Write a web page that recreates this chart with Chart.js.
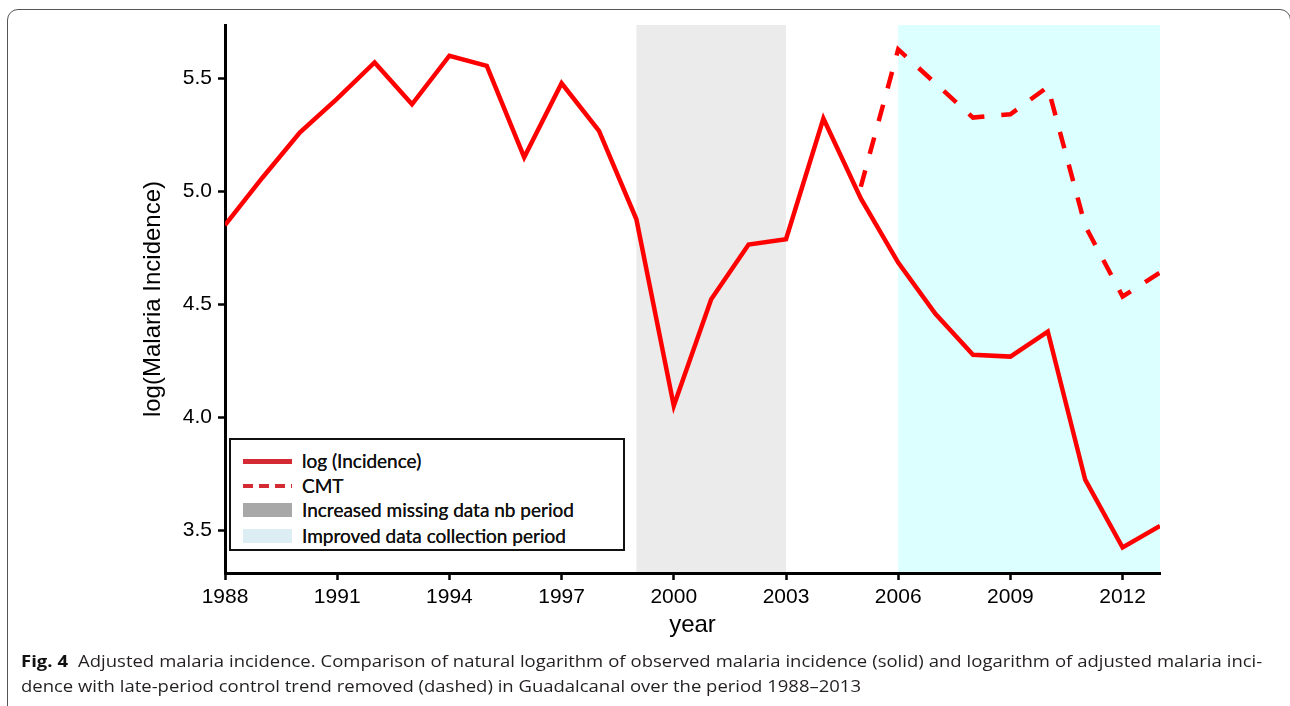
<!DOCTYPE html>
<html>
<head>
<meta charset="utf-8">
<script src="https://cdn.jsdelivr.net/npm/chart.js@4.4.1/dist/chart.umd.min.js"></script>
<style>
  html, body { margin: 0; padding: 0; background: #fff; }
  body { width: 1290px; height: 706px; position: relative; overflow: hidden; }
  #frame {
    position: absolute; left: 7px; top: 9px; width: 1284px; height: 720px;
    border: 1.5px solid #555; border-radius: 11px; box-sizing: border-box;
  }
  #wrap { position: absolute; left: 0; top: 0; width: 1290px; height: 706px; }
  #legend {
    position: absolute; left: 229px; top: 438px; width: 396px; height: 113px;
    border: 2px solid #111; box-sizing: border-box; background: #fff;
    font-family: Lato, "Open Sans", sans-serif; font-size: 19px; color: #111;
  }
  .row { position: absolute; left: 0; height: 20px; }
  .row .swatch { position: absolute; left: 12px; width: 49px; }
  .row .label { position: absolute; left: 71px; top: 0; line-height: 20px; white-space: nowrap; text-shadow: 0 0 0.5px #111; }
  .caption {
    position: absolute; left: 21px; font-family: "Open Sans", "Noto Sans", sans-serif;
    font-size: 16.5px; color: #231f20; white-space: nowrap; display: inline-block; transform-origin: 0 50%;
  }
  .caption b { color: #111; }
</style>
</head>
<body>
<div id="frame"></div>
<div id="wrap"><canvas id="malariaChart" width="1290" height="706"></canvas></div>

<div id="legend"></div>

<div class="caption" id="cap1" style="top:649px;"><b>Fig. 4</b>&nbsp; Adjusted malaria incidence. Comparison of natural logarithm of observed malaria incidence (solid) and logarithm of adjusted malaria inci-</div>
<div class="caption" id="cap2" style="top:674px;">dence with late-period control trend removed (dashed) in Guadalcanal over the period 1988–2013</div>

<script>
// Data
const years = [1988, 1989, 1990, 1991, 1992, 1993, 1994, 1995, 1996, 1997, 1998, 1999, 2000,
               2001, 2002, 2003, 2004, 2005, 2006, 2007, 2008, 2009, 2010, 2011, 2012, 2013];
const logIncidence = [4.85, 5.06, 5.26, 5.41, 5.57, 5.385, 5.60, 5.555, 5.15, 5.478, 5.267, 4.876, 4.05,
                      4.522, 4.764, 4.788, 5.322, 4.968, 4.684, 4.456, 4.276, 4.268, 4.379, 3.723, 3.423, 3.518];
const cmt = [null, null, null, null, null, null, null, null, null, null, null, null, null,
             null, null, null, null, 5.02, 5.628, 5.477, 5.326, 5.341, 5.462, 4.847, 4.534, 4.640];

const xTicks = [1988, 1991, 1994, 1997, 2000, 2003, 2006, 2009, 2012];
const yTicks = [3.5, 4.0, 4.5, 5.0, 5.5];

// shaded periods [start, end]
const missingPeriod = [1999, 2003];
const improvedPeriod = [2006, 2013];

const legendItems = [
    { label: 'log (Incidence)', kind: 'solid', color: '#d42a34' },
    { label: 'CMT', kind: 'dashed', color: '#d42a34' },
    { label: 'Increased missing data nb period', kind: 'patch', color: '#a8a8a8' },
    { label: 'Improved data collection period', kind: 'patch', color: '#dcedf3' }
];

// Build legend box
const legendEl = document.getElementById('legend');
const rowTops = [11, 35.5, 60, 85.5];
legendItems.forEach((item, i) => {
    const row = document.createElement('div');
    row.className = 'row';
    row.style.top = rowTops[i] + 'px';
    const sw = document.createElement('div');
    sw.className = 'swatch';
    if (item.kind === 'solid') {
        sw.style.top = '8px'; sw.style.height = '4.5px'; sw.style.background = item.color;
    } else if (item.kind === 'dashed') {
        sw.style.top = '8px'; sw.style.height = '4.5px';
        sw.style.background = `repeating-linear-gradient(90deg, ${item.color} 0 10px, transparent 10px 16px)`;
    } else {
        sw.style.top = '3px'; sw.style.height = '14px'; sw.style.background = item.color;
    }
    const lb = document.createElement('div');
    lb.className = 'label';
    lb.textContent = item.label;
    row.appendChild(sw);
    row.appendChild(lb);
    legendEl.appendChild(row);
});

// Plugin to paint the shaded periods behind everything
const bandPlugin = {
    id: 'periodBands',
    beforeDraw(chart) {
        const { ctx, chartArea, scales } = chart;
        const bands = [[missingPeriod, '#ebebeb'], [improvedPeriod, '#dcffff']];
        ctx.save();
        bands.forEach(([p, color]) => {
            const x0 = scales.x.getPixelForValue(p[0]);
            const x1 = scales.x.getPixelForValue(p[1]);
            ctx.fillStyle = color;
            ctx.fillRect(x0, chartArea.top, x1 - x0, chartArea.bottom - chartArea.top);
        });
        ctx.restore();
    }
};

const tickFont = { family: '"Liberation Sans", Arial, sans-serif', size: 21 };
const titleFont = { family: '"Liberation Sans", Arial, sans-serif', size: 24 };
const padLeft = 135;
const padBottom = 62;

const ctx = document.getElementById('malariaChart').getContext('2d');
new Chart(ctx, {
    type: 'line',
    data: {
        datasets: [
            {
                label: 'log (Incidence)',
                data: years.map((y, i) => ({ x: y, y: logIncidence[i] })),
                borderColor: '#ff0000',
                borderWidth: 4.5,
                pointRadius: 0,
                tension: 0,
                fill: false
            },
            {
                label: 'CMT',
                data: years.map((y, i) => ({ x: y, y: cmt[i] })),
                borderColor: '#ff0000',
                borderWidth: 4.5,
                borderDash: [17, 17],
                pointRadius: 0,
                tension: 0,
                fill: false,
                spanGaps: false
            }
        ]
    },
    options: {
        responsive: false,
        animation: false,
        layout: { padding: { left: padLeft, right: 130, top: 25, bottom: padBottom } },
        plugins: { legend: { display: false }, tooltip: { enabled: false } },
        scales: {
            x: {
                type: 'linear',
                min: 1988,
                max: 2013,
                afterBuildTicks: (scale) => { scale.ticks = xTicks.map(v => ({ value: v })); },
                afterFit: (scale) => { scale.height = 706 - 573 - padBottom; },
                ticks: {
                    autoSkip: false, maxRotation: 0, padding: 5, color: '#000', font: tickFont,
                    callback: (v) => String(v)
                },
                grid: { drawOnChartArea: false, drawTicks: true, tickLength: 7, tickWidth: 2.5, tickColor: '#000' },
                border: { display: true, color: '#000', width: 3 },
                title: { display: true, text: 'year', color: '#000', font: titleFont, padding: { top: 4, bottom: 4 } }
            },
            y: {
                type: 'linear',
                min: 3.31,
                max: 5.736,
                afterBuildTicks: (scale) => { scale.ticks = yTicks.map(v => ({ value: v })); },
                afterFit: (scale) => { scale.width = 225 - padLeft; },
                ticks: {
                    padding: 6, color: '#000', font: tickFont,
                    callback: (v) => Number(v).toFixed(1)
                },
                grid: { drawOnChartArea: false, drawTicks: true, tickLength: 7, tickWidth: 2.5, tickColor: '#000' },
                border: { display: true, color: '#000', width: 3 },
                title: { display: true, text: 'log(Malaria Incidence)', color: '#000', font: titleFont, padding: { top: 4, bottom: 4 } }
            }
        }
    },
    plugins: [bandPlugin]
});

// Caption: fit the second line to its measured length, justify the first line
const cap1 = document.getElementById('cap1');
const cap2 = document.getElementById('cap2');
const w2 = cap2.getBoundingClientRect().width;
const s = 840 / w2;
cap2.style.transform = `scaleX(${s})`;
const w1 = cap1.getBoundingClientRect().width;
const spaces = (cap1.textContent.match(/ /g) || []).length;
const extra = (1241 / s - w1) / spaces;
cap1.style.wordSpacing = extra + 'px';
cap1.style.transform = `scaleX(${s})`;
</script>
</body>
</html>
